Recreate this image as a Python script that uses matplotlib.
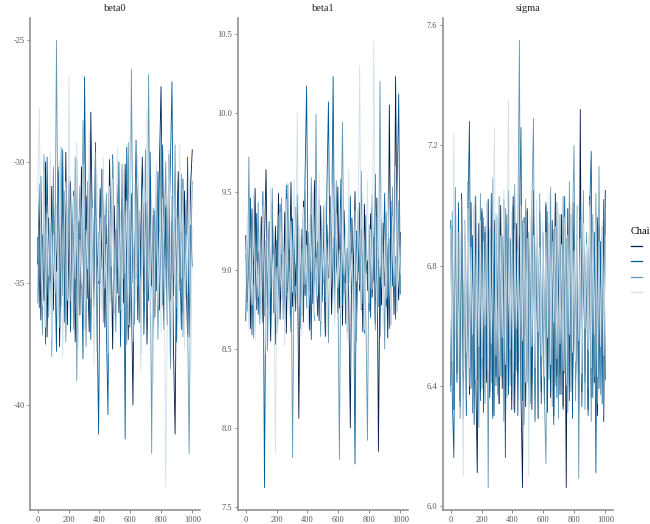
import numpy as np
import matplotlib

matplotlib.use("Agg")
import matplotlib.pyplot as plt

# Trace plot: 4 chains x 3 parameters. Values are read off the reference,
# one value per ten iterations.
iterations = np.linspace(1, 1000, 100)
chain_labels = ["1", "2", "3", "4"]
chain_colors = ["#011f4b", "#005b96", "#6497b1", "#d1e1ec"]
param_names = ["beta0", "beta1", "sigma"]

beta0_c1 = [
    -34.2, -31.6, -36.5, -33.0, -35.7, -30.0, -37.2, -32.3, -34.9, -31.0,
    -36.1, -32.9, -34.5, -30.4, -37.6, -33.4, -31.2, -35.6, -29.6, -36.7,
    -33.2, -30.8, -35.3, -31.9, -37.4, -34.0, -32.5, -36.3, -30.2, -33.8,
    -35.9, -31.4, -34.7, -37.0, -27.95, -32.8, -36.0, -30.6, -33.7, -35.0,
    -31.1, -34.4, -30.3, -36.8, -32.6, -35.5, -29.9, -33.5, -37.7, -31.8,
    -34.6, -30.9, -36.2, -33.3, -31.5, -35.8, -30.1, -34.1, -37.3, -32.0,
    -35.2, -40.0, -32.7, -34.8, -30.5, -36.6, -33.0, -29.8, -35.4, -31.7,
    -37.5, -33.6, -30.7, -35.1, -32.2, -36.4, -31.3, -34.3, -30.0, -26.9,
    -33.9, -36.9, -31.9, -34.5, -29.7, -35.7, -32.4, -37.8, -41.2, -33.1,
    -30.4, -35.0, -32.9, -36.2, -31.2, -34.7, -37.1, -33.5, -30.9, -29.5,
]
beta0_c2 = [
    -33.1, -36.0, -30.6, -34.8, -31.9, -37.5, -29.8, -35.2, -32.7, -36.3,
    -31.4, -34.3, -37.8, -30.2, -33.7, -35.9, -29.5, -36.6, -32.1, -34.5,
    -30.9, -37.0, -33.5, -31.2, -35.8, -29.9, -36.9, -32.4, -34.0, -38.1,
    -26.5, -33.2, -35.6, -30.5, -37.3, -31.7, -34.6, -29.2, -36.4, -41.2,
    -33.0, -30.3, -35.1, -32.2, -37.0, -40.4, -31.0, -34.9, -29.7, -36.2,
    -32.8, -35.4, -30.0, -37.6, -33.6, -31.5, -41.4, -29.4, -34.2, -36.8,
    -31.3, -35.0, -33.3, -29.1, -36.5, -32.5, -34.7, -30.8, -37.1, -33.9,
    -31.6, -35.7, -29.6, -34.1, -37.7, -32.0, -35.3, -30.4, -36.1, -33.4,
    -29.3, -34.4, -31.8, -36.7, -33.1, -30.1, -26.7, -35.5, -32.3, -37.4,
    -31.1, -34.0, -36.9, -30.7, -33.8, -35.6, -29.8, -37.2, -32.6, -34.3,
]
beta0_c3 = [
    -35.8, -30.9, -33.4, -37.1, -29.7, -34.6, -31.8, -36.4, -32.5, -38.0,
    -30.2, -34.9, -25.0, -33.6, -36.8, -29.4, -35.5, -31.2, -37.4, -33.0,
    -30.6, -35.7, -32.4, -36.9, -29.8, -39.0, -33.3, -31.0, -35.2, -28.3,
    -34.4, -37.6, -30.8, -33.9, -36.2, -31.5, -34.7, -29.6, -37.8, -32.9,
    -35.0, -30.4, -36.6, -33.1, -31.3, -38.3, -32.6, -35.8, -29.9, -34.0,
    -37.0, -31.7, -33.5, -36.1, -30.1, -34.8, -32.2, -37.5, -29.2, -35.4,
    -26.2, -33.8, -36.7, -30.7, -35.1, -32.0, -37.9, -31.1, -34.3, -29.5,
    -36.4, -26.4, -33.2, -42.0, -31.9, -35.6, -30.3, -37.3, -33.7, -29.0,
    -35.9, -32.8, -30.0, -36.3, -33.4, -38.5, -31.4, -34.6, -29.3, -36.0,
    -32.3, -35.3, -30.5, -37.2, -33.9, -31.6, -36.5, -42.0, -34.1, -30.8,
]
beta0_c4 = [
    -31.2, -27.8, -33.5, -35.9, -30.4, -36.8, -32.1, -34.7, -29.6, -37.3,
    -33.0, -35.4, -31.7, -36.2, -29.9, -34.1, -38.0, -32.6, -30.8, -35.7,
    -26.5, -33.9, -36.5, -31.4, -34.8, -29.2, -37.6, -33.2, -35.0, -30.1,
    -36.9, -32.8, -34.4, -28.7, -35.6, -31.9, -38.4, -33.6, -30.5, -34.9,
    -32.3, -36.1, -29.8, -35.2, -33.4, -37.9, -31.0, -34.3, -30.7, -36.4,
    -33.8, -29.4, -35.5, -32.0, -37.2, -30.3, -34.6, -31.6, -36.7, -28.9,
    -34.0, -37.4, -31.3, -35.8, -29.7, -33.1, -38.6, -32.4, -30.2, -35.3,
    -27.9, -34.5, -36.3, -31.8, -39.1, -33.3, -30.0, -35.9, -32.9, -37.0,
    -31.5, -34.2, -43.4, -36.0, -29.5, -33.7, -38.2, -30.9, -35.1, -32.2,
    -36.6, -29.3, -34.8, -31.1, -37.7, -33.0, -35.4, -30.6, -38.8, -32.7,
]

beta1_c1 = [
    9.22, 8.80, 9.05, 8.63, 9.39, 8.91, 9.52, 8.75, 9.12, 8.98,
    9.34, 8.67, 9.17, 9.64, 8.86, 9.01, 8.55, 9.43, 8.73, 9.28,
    8.94, 9.49, 8.69, 9.10, 8.82, 9.37, 8.60, 9.20, 8.99, 9.56,
    8.77, 9.13, 8.90, 9.31, 8.06, 9.07, 8.71, 9.44, 8.84, 9.25,
    8.97, 8.62, 9.35, 8.79, 9.57, 8.93, 9.18, 8.68, 9.41, 8.85,
    9.09, 8.58, 9.29, 8.95, 9.47, 8.72, 9.14, 8.88, 9.03, 9.53,
    8.76, 9.23, 8.65, 9.38, 8.92, 9.11, 8.81, 8.00, 9.33, 8.96,
    9.50, 8.70, 9.15, 8.87, 9.26, 8.61, 9.42, 8.98, 9.06, 8.74,
    9.36, 8.83, 9.21, 8.66, 9.46, 7.85, 9.02, 8.78, 9.30, 8.90,
    9.13, 8.57, 10.05, 8.89, 9.40, 8.72, 10.23, 9.00, 8.81, 9.24,
]
beta1_c2 = [
    8.68, 9.21, 8.94, 9.46, 8.59, 9.03, 8.81, 9.36, 8.72, 9.15,
    8.90, 9.50, 7.62, 9.08, 8.76, 9.31, 8.64, 9.24, 8.97, 8.53,
    9.19, 8.79, 9.42, 8.93, 9.06, 8.70, 9.54, 8.86, 9.13, 8.61,
    9.33, 8.96, 8.74, 9.48, 9.00, 8.83, 9.26, 8.67, 9.60, 10.17,
    8.88, 9.17, 8.56, 9.39, 8.91, 9.11, 8.71, 9.45, 9.02, 8.80,
    9.28, 8.62, 9.52, 10.07, 8.95, 9.23, 10.23, 8.84, 9.37, 8.73,
    9.09, 9.58, 8.78, 9.30, 8.66, 9.14, 8.92, 9.47, 8.85, 9.04,
    7.77, 9.25, 8.99, 9.43, 8.75, 9.12, 8.60, 9.35, 8.87, 9.19,
    8.70, 9.40, 8.93, 9.61, 8.82, 9.07, 8.58, 9.32, 8.96, 9.49,
    8.77, 9.16, 8.63, 9.44, 8.90, 9.27, 8.69, 9.55, 10.12, 8.85,
]
beta1_c3 = [
    9.10, 8.74, 9.72, 8.88, 9.30, 8.57, 9.16, 8.95, 9.43, 8.66,
    9.05, 9.38, 8.71, 9.19, 8.49, 9.27, 8.90, 9.52, 8.78, 9.12,
    8.60, 9.35, 8.97, 9.46, 8.69, 9.08, 8.84, 9.55, 8.73, 9.22,
    7.81, 9.01, 9.40, 8.86, 9.28, 8.63, 9.14, 8.92, 9.50, 8.76,
    9.24, 8.87, 9.59, 8.99, 8.68, 9.99, 8.82, 9.33, 8.58, 9.07,
    9.41, 8.80, 9.17, 8.54, 9.36, 8.93, 9.21, 8.70, 9.57, 8.96,
    7.80, 9.26, 9.94, 8.85, 9.13, 8.61, 9.45, 8.98, 9.32, 8.72,
    9.06, 8.55, 9.39, 8.91, 9.63, 8.79, 9.18, 8.67, 7.92, 9.29,
    8.89, 9.48, 9.02, 8.62, 9.34, 8.77, 10.20, 8.94, 9.11, 8.50,
    9.37, 8.83, 9.20, 8.65, 9.53, 8.97, 9.09, 8.74, 9.44, 8.86,
]
beta1_c4 = [
    8.92, 9.35, 8.61, 9.14, 8.78, 9.48, 8.55, 9.06, 8.83, 9.27,
    8.69, 9.41, 8.98, 8.47, 9.20, 8.74, 9.53, 8.88, 9.10, 7.84,
    9.02, 8.66, 9.37, 8.81, 9.12, 8.52, 9.45, 8.95, 8.70, 9.31,
    8.86, 9.58, 9.05, 10.00, 8.77, 9.22, 8.58, 9.40, 8.91, 9.16,
    8.63, 9.33, 8.99, 9.50, 8.72, 9.08, 8.84, 9.62, 8.68, 9.25,
    8.94, 9.44, 8.59, 9.18, 8.80, 9.55, 9.01, 8.65, 9.36, 8.89,
    9.13, 8.73, 9.47, 8.97, 9.29, 8.56, 9.64, 8.85, 9.11, 8.42,
    9.38, 8.93, 9.21, 10.30, 8.76, 9.49, 8.62, 9.04, 9.57, 8.79,
    9.26, 8.88, 10.46, 9.09, 8.71, 9.42, 8.96, 9.60, 8.64, 9.19,
    8.82, 9.51, 9.03, 8.69, 9.34, 8.90, 9.66, 8.75, 9.15, 8.98,
]

sigma_c1 = [
    6.40, 6.93, 6.32, 6.99, 6.44, 6.87, 6.35, 7.04, 6.29, 6.90,
    6.42, 6.96, 6.37, 7.01, 6.31, 6.89, 6.45, 6.11, 6.94, 6.38,
    6.98, 6.33, 6.91, 6.41, 7.02, 6.36, 6.88, 6.30, 6.95, 6.43,
    6.86, 6.34, 7.00, 6.39, 6.92, 6.28, 6.97, 6.42, 6.89, 6.35,
    7.03, 6.31, 6.94, 6.44, 6.90, 6.37, 6.06, 6.96, 6.33, 6.99,
    6.40, 6.87, 6.32, 7.02, 6.45, 6.93, 6.29, 6.98, 6.38, 6.91,
    6.34, 7.00, 6.41, 6.88, 6.36, 6.95, 6.30, 7.04, 6.43, 6.89,
    6.37, 6.97, 6.33, 6.92, 6.06, 6.99, 6.40, 6.86, 6.35, 7.01,
    6.42, 6.90, 6.31, 7.32, 6.38, 6.94, 6.44, 6.88, 6.32, 7.03,
    6.36, 6.91, 6.41, 6.97, 6.30, 6.93, 6.43, 6.89, 6.28, 7.05,
]
sigma_c2 = [
    6.95, 6.36, 6.16, 6.88, 6.41, 7.01, 6.33, 6.92, 6.44, 6.86,
    6.30, 6.97, 7.28, 6.39, 6.90, 6.27, 7.03, 6.42, 6.85, 6.35,
    6.99, 6.31, 6.93, 6.45, 6.87, 6.38, 7.04, 6.29, 6.91, 6.40,
    6.96, 6.34, 6.89, 6.43, 7.02, 6.16, 6.94, 6.37, 6.88, 6.32,
    7.00, 6.40, 6.86, 6.30, 6.95, 7.26, 6.35, 6.91, 6.44, 6.98,
    6.33, 6.87, 6.41, 7.05, 6.28, 6.92, 6.39, 6.96, 6.34, 6.89,
    6.42, 7.01, 6.31, 6.94, 6.38, 6.88, 6.27, 6.99, 6.36, 6.93,
    6.44, 6.86, 6.32, 7.03, 6.40, 6.90, 6.35, 6.97, 6.29, 6.92,
    6.43, 6.87, 6.37, 7.00, 6.33, 6.95, 6.41, 6.89, 6.30, 6.98,
    7.18, 6.36, 6.91, 6.11, 6.96, 6.39, 6.88, 6.34, 7.02, 6.42,
]
sigma_c3 = [
    6.38, 6.98, 6.33, 7.06, 6.42, 6.91, 6.29, 7.02, 6.45, 6.95,
    6.35, 7.08, 6.40, 6.93, 6.31, 7.00, 6.44, 6.89, 6.26, 7.04,
    6.39, 6.96, 6.34, 7.01, 6.06, 6.92, 6.41, 7.09, 6.30, 6.97,
    6.37, 7.03, 6.43, 6.90, 6.28, 6.99, 6.36, 7.05, 6.40, 6.94,
    6.32, 7.07, 6.45, 6.93, 7.55, 6.38, 6.95, 6.27, 7.02, 6.41,
    6.91, 6.34, 7.00, 7.29, 6.39, 6.96, 6.30, 7.04, 6.43, 6.90,
    6.36, 6.14, 6.98, 6.42, 7.06, 6.33, 6.92, 6.40, 7.01, 6.29,
    6.97, 6.37, 7.03, 6.44, 6.89, 6.31, 7.08, 6.38, 6.94, 7.20,
    6.35, 7.00, 6.09, 6.95, 6.41, 7.05, 6.32, 6.91, 6.39, 7.02,
    6.28, 6.97, 6.43, 7.04, 6.34, 7.13, 6.37, 6.93, 6.30, 6.99,
]
sigma_c4 = [
    6.92, 6.48, 7.24, 6.55, 6.97, 6.44, 6.89, 6.58, 6.10, 6.94,
    6.51, 6.99, 6.46, 6.86, 6.57, 7.03, 6.42, 6.91, 6.53, 6.95,
    6.49, 6.88, 6.60, 7.01, 6.45, 6.93, 6.54, 6.84, 7.26, 6.50,
    6.96, 6.43, 6.90, 6.56, 7.05, 6.47, 6.87, 7.35, 6.52, 6.98,
    6.44, 6.92, 6.59, 6.85, 6.48, 7.00, 6.55, 6.94, 6.41, 6.89,
    6.10, 6.97, 6.53, 6.90, 6.46, 7.02, 6.58, 6.86, 6.50, 6.95,
    6.43, 6.91, 6.56, 7.04, 6.47, 6.88, 6.61, 6.93, 6.49, 6.99,
    6.54, 6.87, 6.45, 6.96, 6.40, 6.90, 6.57, 7.01, 6.51, 6.85,
    6.48, 6.98, 6.55, 6.89, 6.44, 6.94, 6.59, 6.87, 6.52, 7.00,
    6.46, 6.91, 6.57, 6.97, 6.43, 6.88, 6.53, 6.95, 6.50, 6.90,
]

traces = {
    "beta0": [beta0_c1, beta0_c2, beta0_c3, beta0_c4],
    "beta1": [beta1_c1, beta1_c2, beta1_c3, beta1_c4],
    "sigma": [sigma_c1, sigma_c2, sigma_c3, sigma_c4],
}
y_ticks = {
    "beta0": [-40, -35, -30, -25],
    "beta1": [7.5, 8.0, 8.5, 9.0, 9.5, 10.0, 10.5],
    "sigma": [6.0, 6.4, 6.8, 7.2, 7.6],
}
y_fmt = {"beta0": "{:.0f}", "beta1": "{:.1f}", "sigma": "{:.1f}"}
x_ticks = [0, 200, 400, 600, 800, 1000]

plt.rcParams["font.family"] = ["Liberation Serif", "DejaVu Serif"]

W, H = 650, 524
fig = plt.figure(figsize=(W / 100, H / 100), dpi=100)
lefts = [30, 238, 443]
spine_col = "#888888"
text_col = "#555555"

handles = []
for name, left in zip(param_names, lefts):
    ax = fig.add_axes([left / W, 14 / H, 170 / W, 492 / H])
    for vals, col in zip(traces[name], chain_colors):
        (ln,) = ax.plot(iterations, vals, color=col, lw=0.6)
        if name == "beta0":
            handles.append(ln)
    ax.margins(x=0.05, y=0.05)
    ax.set_xticks(x_ticks)
    ax.set_yticks(y_ticks[name])
    ax.set_yticklabels([y_fmt[name].format(v) for v in y_ticks[name]])
    ax.set_title(name, fontsize=7.5, color="#222222", pad=5)
    for side in ("top", "right"):
        ax.spines[side].set_visible(False)
    for side in ("left", "bottom"):
        ax.spines[side].set_color(spine_col)
        ax.spines[side].set_linewidth(1.1)
    ax.tick_params(labelsize=6, colors=text_col, length=2.5, width=0.7,
                   pad=1.5)
    ax.tick_params(color=spine_col)

# legend sits at the right edge and is clipped, as in the reference
leg_handles = [plt.Line2D([], [], color=h.get_color(), lw=0.9) for h in handles]
fig.legend(leg_handles, chain_labels, title="Chain", loc="upper left",
           bbox_to_anchor=(631 / W, 1 - 227 / H), frameon=False,
           fontsize=7, title_fontsize=7.5, alignment="left",
           borderpad=0, borderaxespad=0, handlelength=1.1,
           labelspacing=0.65)

fig.savefig("out.png", dpi=100)
